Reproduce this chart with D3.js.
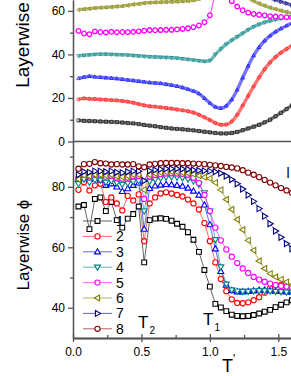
<!DOCTYPE html>
<html><head><meta charset="utf-8">
<script src="https://cdn.jsdelivr.net/npm/d3@7"></script>
<style>body{margin:0;background:#fff}svg{display:block}</style>
</head><body>
<script>
// ---- data ----
const T = [0.04,0.08,0.12,0.16,0.20,0.24,0.28,0.32,0.36,0.40,
           0.44,0.48,0.52,0.56,0.60,0.64,0.68,0.72,0.76,0.80,
           0.84,0.88,0.92,0.96,1.00,1.04,1.08,1.12,1.16,1.20,
           1.24,1.28,1.32,1.36,1.40,1.44,1.48,1.52,1.56,1.60];
const layerNames = ["1","2","3","4","5","6","7","8"];
const colors = ["#000000","#ff0000","#0000ff","#008080","#ff00ff","#808000","#000080","#800000"];
const symbols = ["square","circle","up","down","circle","left","right","circle"];
const yTicksTop = [0,20,40,60];
const yTicksBot = [40,60,80];
const xTicks = [0.0,0.5,1.0,1.5];

// top panel (offset curves)
const top1 = [9.7,9.5,9.4,9.3,9.2,9.1,9.0,8.9,8.7,8.5, 8.3,8.0,7.6,7.3,7.0,6.6,6.3,6.0,5.8,5.6, 5.4,5.1,4.8,4.5,4.2,3.9,3.7,3.7,3.9,4.4, 5.2,6.0,6.8,7.7,8.8,10.0,11.6,13.2,14.9,16.6];
const top2 = [19.3,19.8,19.6,19.5,19.3,19.2,19.0,18.9,18.6,18.3, 17.8,17.2,16.6,16.2,16.0,15.7,15.4,15.1,14.7,14.3, 13.9,13.3,12.3,11.1,9.9,8.5,7.7,7.8,9.2,12.3, 16.5,21,25.3,29.5,33.2,36.3,38.8,40.8,42.5,44.0];
const top3 = [29.0,29.6,30.0,29.7,29.5,29.3,29.1,28.9,28.6,28.3, 28.0,27.7,27.4,27.1,26.9,26.7,26.3,25.9,25.4,24.8, 24.0,23.2,22.0,19.9,17.7,15.9,15.3,16.4,19.3,23.8, 29.3,34.7,39.5,43.3,46.3,48.6,50.4,51.9,53.2,54.3];
const top4 = [39.3,39.6,39.8,40.0,40.1,40.1,40.0,39.9,39.8,39.7, 39.5,39.3,39.1,38.9,38.8,38.7,38.6,38.5,38.3,38.0, 37.7,37.4,37.1,36.8,37.2,40.0,42.5,44.7,46.5,48.1, 49.7,51.3,52.7,53.8,54.7,55.4,56.0,56.5,57.0,57.4];
const top5 = [50.8,49.6,49.3,50.6,50.3,50.1,50.4,50.2,50.3,50.2, 50.4,50.6,50.9,51.2,51.1,51.2,51.3,51.3,51.5,51.7, 52.0,52.5,53.3,54.8,58.0,68,74,70,64.5,62, 60.3,59.2,58.6,58.2,57.9,57.6,57.4,57.2,57.1,57.0];
const top6 = [60.5,60.8,61.0,61.3,61.5,61.6,61.8,62.0,62.2,62.5, 63.0,63.2,63.6,63.8,63.9,64.0,64.1,64.2,64.3,64.4, 64.6,64.9,65.5,67,69,70,70.5,70.5,70.3,70, 68.5,66,64.5,63.4,62.4,61.5,60.8,60.1,59.5,58.9];
const top7 = [70.5,70.8,71.0,71.2,71.3,71.4,71.5,71.6,71.7,71.8, 71.9,72.0,72.0,72.1,72.2,72.3,72.4,72.5,72.6,72.7, 72.8,72.9,73.0,73.0,72.9,72.6,72.2,71.6,71.0,70.3, 69.6,68.8,68.0,67.3,66.6,65.9,65.0,64.2,63.4,62.6];

// bottom panel (layerwise phi)
const bot1 = [73.5,74,66,76,76.5,72,75,69,66.5,69.5, 71,73.5,55,69,69.5,69.6,69.4,68.8,67.8,66.8, 65,62.5,58.5,52.5,47,41.3,40.1,38.9,37.7,37.3, 37.2,37.3,37.6,38.1,38.7,39.3,40.2,41.0,41.8,42.5];
const bot2 = [79,81.5,78.8,80.5,81,75,76.5,74.5,72.2,77, 75.5,77.5,62,74.5,76.5,77.8,78.2,77.8,77.3,76.8, 75.8,74.5,72.5,68,62,55,49.5,45.5,42.8,41.6, 41.5,41.8,42.5,43.5,45,46.5,47.5,47.6,47.0,46.4];
const bot3 = [82.5,83.2,82.5,83,82.3,80.5,81,80,78.5,79.4, 80.5,81.3,66,79.5,80.3,80.6,80.8,80.7,80.5,80.2, 79.6,78.6,77.3,74,67.5,59.5,52,47.5,45.7,45.3, 45.3,45.4,45.6,45.8,45.9,45.7,45.5,45.4,45.3,45.3];
const bot4 = [81,82.5,81.5,82.3,82.2,81.5,82,81.3,80.8,81.2, 81.8,82,72,81.8,82.5,82.9,83.2,83.3,83.2,83.0, 82.6,81.9,80.8,78,72,62.5,53.5,47.8,45.9,45.5, 45.4,45.4,45.5,45.6,45.6,45.5,45.4,45.3,45.2,45.1];
const bot5 = [83,84.2,83.5,84.2,84,83.3,83.7,83,82.7,83, 83.5,83.6,76,83.4,83.9,84.2,84.4,84.5,84.4,84.3, 84.0,83.0,81.3,77.3,72,66.5,62.3,59.3,56.9,54.8, 53,51.5,50.2,49.3,48.6,48.0,47.5,47.2,47.0,46.8];
const bot6 = [82.5,83.8,83.5,84,84,83.7,84,83.5,83.3,83.6, 84,84,79,84,84.4,84.7,84.9,85,84.9,84.7, 84.5,84.2,83.7,83.2,82.8,81.4,79,75.8,72.5,69.2, 65.8,62.3,59,55.5,53,51.3,50.2,49.4,48.5,47.5];
const bot7 = [84,85,84.8,85.2,85.2,85,85.2,84.8,84.7,85, 85.2,85.2,82,85.3,85.6,85.8,86,86,86,85.9, 85.8,85.6,85.4,85.3,85.2,85.0,84.5,83.6,82.4,81, 79.3,77.3,75.2,72.8,70.3,67.8,65.4,63.3,61.2,59.5];
const bot8 = [86,87.5,87.6,88.2,87.8,87.7,87.4,87.5,87.4,87.4, 87.5,86.8,86.5,87.4,87.6,87.8,87.9,87.9,87.9,87.8, 87.8,87.7,87.6,87.5,87.3,87.1,86.9,86.6,86.4,86.1, 85.5,84.7,84.0,83.2,82.3,81.4,80.5,79.6,78.8,78.0];

const topSeries = [top1,top2,top3,top4,top5,top6,top7];
const botSeries = [bot1,bot2,bot3,bot4,bot5,bot6,bot7,bot8];

// ---- layout ----
const W = 291, H = 376;
const svg = d3.select("body").append("svg").attr("width", W).attr("height", H)
  .style("font-family", "'Liberation Sans', Arial, sans-serif");

const x = d3.scaleLinear().domain([0, 1.6]).range([73, 292]);
const yTop = d3.scaleLinear().domain([0, 65]).range([141.5, 0]);
const yBot = d3.scaleLinear().domain([30, 95]).range([338, 141.5]);

const defs = svg.append("defs");
defs.append("clipPath").attr("id","cTop").append("rect").attr("x",73).attr("y",0).attr("width",220).attr("height",141.5);
defs.append("clipPath").attr("id","cBot").append("rect").attr("x",73).attr("y",141.5).attr("width",220).attr("height",196.5);

function sym(type, r) {
  switch (type) {
    case "square": return `M${-r},${-r}H${r}V${r}H${-r}Z`;
    case "circle": return `M${r},0A${r},${r} 0 1,1 ${-r},0A${r},${r} 0 1,1 ${r},0Z`;
    case "up": return `M0,${-r*1.2}L${r*1.15},${r*0.8}L${-r*1.15},${r*0.8}Z`;
    case "down": return `M0,${r*1.2}L${r*1.15},${-r*0.8}L${-r*1.15},${-r*0.8}Z`;
    case "left": return `M${-r*1.2},0L${r*0.8},${-r*1.15}L${r*0.8},${r*1.15}Z`;
    case "right": return `M${r*1.2},0L${-r*0.8},${-r*1.15}L${-r*0.8},${r*1.15}Z`;
  }
}

// ---- top panel ----
const gTop = svg.append("g").attr("clip-path","url(#cTop)");
const lineTop = d3.line().x((d,i)=>x(T[i])).y(d=>yTop(d)).curve(d3.curveMonotoneX);
topSeries.forEach((s, k) => {
  const c = colors[k];
  if (k === 4) {
    gTop.append("path").attr("d", lineTop(s)).attr("fill","none").attr("stroke",c).attr("stroke-width",1).attr("opacity",0.8);
    gTop.selectAll(null).data(s).enter().append("path")
      .attr("d", sym("circle", 2.3))
      .attr("transform", (d,i)=>`translate(${x(T[i])},${yTop(d)})`)
      .attr("fill","#fff").attr("stroke",c).attr("stroke-width",1.3);
  } else {
    gTop.append("path").attr("d", lineTop(s)).attr("fill","none").attr("stroke",c).attr("stroke-width",3.4).attr("opacity",0.55);
    gTop.selectAll(null).data(s).enter().append("path")
      .attr("d", sym(symbols[k], 1.6))
      .attr("transform", (d,i)=>`translate(${x(T[i])},${yTop(d)})`)
      .attr("fill","none").attr("stroke",c).attr("stroke-width",0.8).attr("opacity",0.8);
  }
});

// ---- bottom panel ----
const gBot = svg.append("g").attr("clip-path","url(#cBot)");
const lineBot = d3.line().x((d,i)=>x(T[i])).y(d=>yBot(d));
const order = [0,1,2,3,4,5,6,7];
order.forEach(k => {
  gBot.append("path").attr("d", lineBot(botSeries[k])).attr("fill","none")
    .attr("stroke", colors[k]).attr("stroke-width",1).attr("opacity",0.6);
});
order.forEach(k => {
  const s = botSeries[k];
  gBot.selectAll(null).data(s).enter().append("path")
    .attr("d", sym(symbols[k], symbols[k]==="square"?2.4:2.6))
    .attr("transform", (d,i)=>`translate(${x(T[i])},${yBot(d)})`)
    .attr("fill","#fff").attr("stroke",colors[k]).attr("stroke-width",1.1);
});

// ---- legend ----
const leg = svg.append("g");
layerNames.forEach((n, k) => {
  const yy = 221 + k*15.4;
  leg.append("line").attr("x1",83).attr("x2",112).attr("y1",yy).attr("y2",yy)
    .attr("stroke",colors[k]).attr("stroke-width",1).attr("opacity",0.6);
  leg.append("path").attr("d", sym(symbols[k], symbols[k]==="square"?2.4:2.6))
    .attr("transform",`translate(97.5,${yy})`).attr("fill","#fff").attr("stroke",colors[k]).attr("stroke-width",1.1);
  leg.append("text").attr("x",116).attr("y",yy).attr("dy","0.36em").attr("font-size",14).text(n);
});

// ---- annotations ----
const t2 = svg.append("text").attr("x",138).attr("y",328).attr("font-size",17);
t2.append("tspan").text("T");
t2.append("tspan").attr("font-size",10).attr("dy",6).attr("dx",1).text("2");
const t1 = svg.append("text").attr("x",203).attr("y",324.5).attr("font-size",17);
t1.append("tspan").text("T");
t1.append("tspan").attr("font-size",10).attr("dy",6).attr("dx",1).text("1");
svg.append("text").attr("x",286.5).attr("y",178).attr("font-size",14).text("l");

// ---- axes ----
const axColor = "#555";
function styleAxis(g){ g.selectAll("path,line").attr("stroke",axColor).attr("stroke-width",1.3); g.selectAll("text").attr("fill","#000").attr("font-size",12).attr("font-family","'Liberation Sans', Arial, sans-serif"); }

svg.append("g").attr("transform","translate(73,0)")
  .call(d3.axisLeft(yTop).tickValues(yTicksTop).tickSize(5).tickSizeOuter(0).tickPadding(3).tickFormat(d3.format("d"))).call(styleAxis);
svg.append("g").attr("transform","translate(73,0)")
  .call(d3.axisLeft(yTop).tickValues([10,30,50]).tickSize(3).tickSizeOuter(0).tickFormat("")).call(styleAxis);
svg.append("g").attr("transform","translate(73,0)")
  .call(d3.axisLeft(yBot).tickValues(yTicksBot).tickSize(5).tickSizeOuter(0).tickPadding(3).tickFormat(d3.format("d"))).call(styleAxis);
svg.append("g").attr("transform","translate(73,0)")
  .call(d3.axisLeft(yBot).tickValues([50,70,90]).tickSize(3).tickSizeOuter(0).tickFormat("")).call(styleAxis);
svg.append("g").attr("transform","translate(0,338)")
  .call(d3.axisBottom(x).tickValues(xTicks).tickSize(4).tickSizeOuter(0).tickPadding(5).tickFormat(d3.format(".1f"))).call(styleAxis);
svg.append("g").attr("transform","translate(0,338)")
  .call(d3.axisBottom(x).tickValues(xTicks).tickSize(-4).tickSizeOuter(0).tickFormat("")).call(styleAxis);
svg.append("g").attr("transform","translate(0,338)")
  .call(d3.axisBottom(x).tickValues([0.25,0.75,1.25]).tickSize(-3).tickSizeOuter(0).tickFormat("")).call(styleAxis);
// panel separator
svg.append("line").attr("x1",73).attr("x2",292).attr("y1",yTop(0)).attr("y2",yTop(0)).attr("stroke",axColor).attr("stroke-width",1.3);

// ---- axis titles ----
svg.append("text").attr("transform","translate(29,45) rotate(-90)").attr("text-anchor","middle").attr("font-size",19).text("Layerwise");
svg.append("text").attr("transform","translate(29,245) rotate(-90)").attr("text-anchor","middle").attr("font-size",17).text("Layerwise \u03D5");
const xt = svg.append("text").attr("x",222).attr("y",372).attr("font-size",18);
xt.append("tspan").text("T");
xt.append("tspan").attr("font-size",12).attr("dy",-9).text("'");
</script>
</body></html>
